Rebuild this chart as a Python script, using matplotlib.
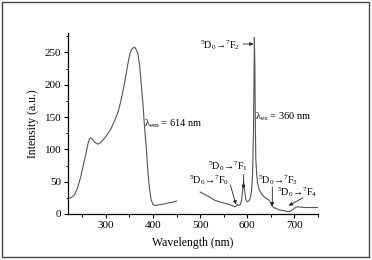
import numpy as np
import matplotlib
matplotlib.use('Agg')
import matplotlib.pyplot as plt
from matplotlib.patches import Rectangle
from matplotlib.ticker import MultipleLocator

plt.rcParams['font.family'] = ['Liberation Serif', 'DejaVu Serif']
plt.rcParams['mathtext.fontset'] = 'custom'
plt.rcParams['mathtext.rm'] = 'Liberation Serif'
plt.rcParams['mathtext.it'] = 'Liberation Serif:italic'

# excitation spectrum (lambda_em = 614 nm)
ex_wl = [220, 226, 233, 240, 247, 253, 258, 262, 265, 268, 272, 277, 283, 290, 297,
         304, 311, 318, 326, 331, 336, 342, 347, 351, 354, 358, 361, 364, 368, 372,
         375, 379, 382, 386, 389, 392, 396, 400, 404, 410, 420, 432, 440, 450]
ex_int = [24, 25, 29, 40, 58, 78, 94, 108, 116, 118, 115, 111, 108, 111, 117,
          124, 132, 143, 158, 172, 189, 212, 233, 247, 254, 257, 258, 255, 248, 228,
          202, 168, 135, 100, 68, 43, 22, 15, 13, 14, 15, 17, 18, 20]

# emission spectrum (lambda_ex = 360 nm)
em_wl = [500, 510, 520, 532, 545, 560, 568, 574, 577, 579, 581, 585, 588, 590, 592,
         594, 597, 600, 603, 606, 609, 611, 613, 614, 615, 616, 617, 618, 620, 622,
         625, 630, 635, 640, 645, 649, 651, 653, 656, 662, 670, 678, 684, 690, 695,
         700, 705, 710, 720, 735, 750]
em_int = [34, 30, 26, 21, 18, 15, 13, 11, 13, 15, 13, 14, 22, 38, 50,
          38, 22, 19, 20, 24, 35, 60, 120, 200, 273, 230, 140, 85, 60, 47,
          38, 31, 27, 24, 22, 18, 14, 12, 10, 8, 6, 5, 4, 4, 6,
          9, 11, 11, 10, 10, 10]

xticks = [300, 400, 500, 600, 700]
yticks = [0, 50, 100, 150, 200, 250]

# transition labels: (text, text x, text y, arrow start, arrow end)
trans = [
    (r'$^5$D$_0$→$^7$F$_2$', 500, 261, (591, 263), (613, 263)),
    (r'$^5$D$_0$→$^7$F$_1$', 517, 74, (592, 61), (592, 39)),
    (r'$^5$D$_0$→$^7$F$_0$', 477, 52, (564, 45), (576, 15)),
    (r'$^5$D$_0$→$^7$F$_3$', 623, 53, (653, 42), (653, 12)),
    (r'$^5$D$_0$→$^7$F$_4$', 664, 34, (718, 25), (688, 13)),
]

fig = plt.figure(figsize=(3.72, 2.60), dpi=100)
ax = fig.add_axes([0.183, 0.177, 0.672, 0.696])

line_c = '#555555'
ax.plot(ex_wl, ex_int, color=line_c, lw=0.8)
ax.plot(em_wl, em_int, color=line_c, lw=0.8)

ax.set_xlim(220, 750)
ax.set_ylim(0, 280)
ax.set_xticks(xticks)
ax.set_yticks(yticks)
ax.xaxis.set_minor_locator(MultipleLocator(50))
ax.yaxis.set_minor_locator(MultipleLocator(25))
ax.tick_params(which='major', direction='out', length=3, width=0.8, labelsize=8, pad=2)
ax.tick_params(which='minor', direction='out', length=1.8, width=0.7)
ax.spines['top'].set_visible(False)
ax.spines['right'].set_visible(False)
for s in ['left', 'bottom']:
    ax.spines[s].set_linewidth(0.9)

ax.set_xlabel('Wavelength (nm)', fontsize=8.5, labelpad=5)
ax.set_ylabel('Intensity (a.u.)', fontsize=8.5, labelpad=4)

ax.text(381, 139, r'λ$_{\mathrm{em}}$ = 614 nm', fontsize=7.5, va='center', ha='left')
ax.text(617, 150, r'λ$_{\mathrm{ex}}$ = 360 nm', fontsize=7.5, va='center', ha='left')

for txt, tx, ty, a0, a1 in trans:
    ax.text(tx, ty, txt, fontsize=7.3, va='center', ha='left')
    ax.annotate('', xy=a1, xytext=a0,
                arrowprops=dict(arrowstyle='-|>', color='#222222', lw=0.6,
                                mutation_scale=5, shrinkA=0, shrinkB=0))

fig.patches.append(Rectangle((0.006, 0.01), 0.986, 0.982, transform=fig.transFigure,
                             fill=False, lw=1.0, ec='#444444'))

fig.savefig('out.png', dpi=100)
